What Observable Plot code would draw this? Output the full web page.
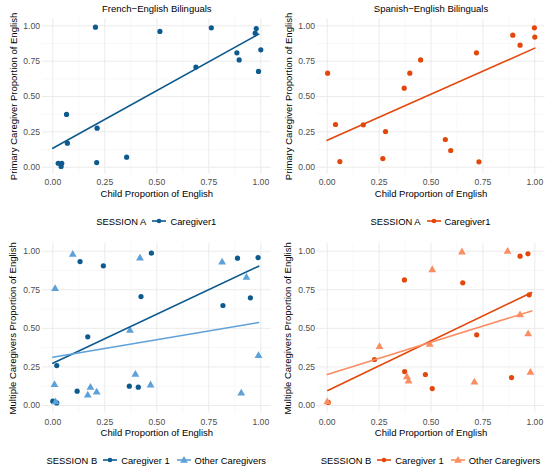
<!DOCTYPE html>
<html>
<head>
<meta charset="utf-8">
<script src="https://cdn.jsdelivr.net/npm/d3@7"></script>
<script src="https://cdn.jsdelivr.net/npm/@observablehq/plot@0.6"></script>
<style>
  html, body { margin: 0; padding: 0; background: #fff; overflow: hidden; }
  #wrap { position: relative; width: 550px; height: 469px; overflow: hidden;
          font-family: "Liberation Sans", Arial, Helvetica, sans-serif; }
  .cell { position: absolute; }
  .legend { position: absolute; height: 20px; display: flex; align-items: center;
            justify-content: center; font-size: 9.4px; color: #000; white-space: nowrap; }
  .legend .ttl { margin-right: 6px; }
  .legend svg { margin-right: 4px; }
  .legend .lab { margin-right: 7px; }
  .legend .lab:last-child { margin-right: 0; }
</style>
</head>
<body>
<div id="wrap"></div>
<script>
// ---------- data ----------
const frenchChild    = [0.205, 0.515, 0.762, 0.978, 0.973, 0.885, 0.896, 1.000, 0.989, 0.688, 0.066, 0.070, 0.213, 0.211, 0.355, 0.026, 0.043, 0.040];
const frenchPrimary  = [0.990, 0.960, 0.986, 0.981, 0.948, 0.809, 0.759, 0.830, 0.677, 0.708, 0.373, 0.170, 0.276, 0.033, 0.071, 0.028, 0.028, 0.005];
const frenchFitX     = [0.00, 0.99];
const frenchFitY     = [0.134, 0.941];

const spanishChild   = [0.002, 0.040, 0.061, 0.174, 0.268, 0.281, 0.371, 0.398, 0.450, 0.569, 0.595, 0.719, 0.731, 0.894, 0.929, 0.998, 1.000];
const spanishPrimary = [0.665, 0.302, 0.040, 0.300, 0.061, 0.252, 0.559, 0.665, 0.759, 0.196, 0.118, 0.809, 0.038, 0.934, 0.863, 0.986, 0.920];
const spanishFitX    = [0.00, 1.00];
const spanishFitY    = [0.190, 0.842];

const frBChild1      = [0.000, 0.019, 0.019, 0.131, 0.117, 0.168, 0.243, 0.368, 0.411, 0.424, 0.474, 0.818, 0.888, 0.950, 0.987];
const frBCare1       = [0.028, 0.017, 0.259, 0.933, 0.093, 0.445, 0.905, 0.125, 0.119, 0.706, 0.987, 0.648, 0.955, 0.698, 0.959];
const frBChildOther  = [0.096, 0.011, 0.419, 0.371, 0.008, 0.013, 0.397, 0.181, 0.168, 0.211, 0.470, 0.814, 0.931, 0.989, 0.906];
const frBCareOther   = [0.978, 0.756, 0.955, 0.486, 0.134, 0.022, 0.201, 0.117, 0.067, 0.086, 0.132, 0.929, 0.829, 0.322, 0.080];
const frBFit1X       = [0.00, 0.99];
const frBFit1Y       = [0.274, 0.903];
const frBFitOtherX   = [0.00, 0.99];
const frBFitOtherY   = [0.313, 0.538];

const esBChild1      = [0.005, 0.372, 0.653, 0.929, 0.967, 0.973, 0.720, 0.228, 0.373, 0.473, 0.506, 0.888];
const esBCare1       = [0.020, 0.814, 0.795, 0.968, 0.983, 0.717, 0.458, 0.298, 0.220, 0.201, 0.110, 0.181];
const esBChildOther  = [0.000, 0.252, 0.384, 0.392, 0.494, 0.506, 0.649, 0.709, 0.869, 0.929, 0.968, 0.979];
const esBCareOther   = [0.022, 0.380, 0.184, 0.158, 0.395, 0.879, 0.994, 0.151, 0.998, 0.587, 0.464, 0.214];
const esBFit1X       = [0.003, 0.985];
const esBFit1Y       = [0.097, 0.732];
const esBFitOtherX   = [0.000, 0.985];
const esBFitOtherY   = [0.201, 0.613];

const majorTicks = [0, 0.25, 0.5, 0.75, 1];
const minorTicks = [0.125, 0.375, 0.625, 0.875];
const tickLabels = ["0.00", "0.25", "0.50", "0.75", "1.00"];

const titles = ["French\u2212English Bilinguals", "Spanish\u2212English Bilinguals"];
const xTitle = "Child Proportion of English";
const yTitleTop = "Primary Caregiver Proportion of English";
const yTitleBottom = "Multiple Caregivers Proportion of English";
const legendTitles = ["SESSION A", "SESSION B"];
const seriesTop = ["Caregiver1"];
const seriesBottom = ["Caregiver 1", "Other Caregivers"];

const blueDark = "#0D5A8E", blueLight = "#5DA1D8";
const orangeDark = "#E3470B", orangeLight = "#FA8D62";

// ---------- helpers ----------
const W = 275;
const dom = [-0.05, 1.05];
const FONT = '"Liberation Sans", Arial, Helvetica, sans-serif';
const TICK_FS = 8.6, TITLE_FS = 9.5;
const fmt = d => tickLabels[majorTicks.indexOf(d)];
const rows = (xs, ys) => xs.map((x, i) => ({x, y: ys[i]}));

function makePanel(cfg) {
  const {H, x0, x1, y0, y1, points, fits, title, ylab, yTitleX, xTickY, xTitleY, titleY} = cfg;
  const kx = x1 - x0, ky = y0 - y1;
  const mL = x0 + dom[0] * kx;
  const mR = W - (x0 + dom[1] * kx);
  const mT = y0 - dom[1] * ky;
  const mB = H - (y0 - dom[0] * ky);
  const fb = H - mB;
  const marks = [
    Plot.gridX({ticks: minorTicks, stroke: "#F3F3F3", strokeOpacity: 1, strokeWidth: 0.6}),
    Plot.gridY({ticks: minorTicks, stroke: "#F3F3F3", strokeOpacity: 1, strokeWidth: 0.6}),
    Plot.gridX({ticks: majorTicks, stroke: "#EBEBEB", strokeOpacity: 1, strokeWidth: 1}),
    Plot.gridY({ticks: majorTicks, stroke: "#EBEBEB", strokeOpacity: 1, strokeWidth: 1}),
    Plot.axisX({ticks: majorTicks, tickFormat: fmt, tickSize: 0,
      tickPadding: xTickY - fb - 0.355 * TICK_FS, fontSize: TICK_FS, fill: "#4D4D4D", label: null}),
    Plot.axisY({ticks: majorTicks, tickFormat: fmt, tickSize: 0,
      tickPadding: mL - 39.5, fontSize: TICK_FS, fill: "#4D4D4D", label: null}),
  ];
  for (const p of points) {
    marks.push(Plot.dot(rows(p.xs, p.ys), {x: "x", y: "y", fill: p.color, stroke: "none",
      r: p.symbol === "triangle" ? 2.9 : 2.6, symbol: p.symbol}));
  }
  for (const f of fits) {
    marks.push(Plot.line(rows(f.xs, f.ys), {x: "x", y: "y", stroke: f.color, strokeWidth: 1.6}));
  }
  if (title) {
    marks.push(Plot.text([title], {text: d => d, frameAnchor: "top", lineAnchor: "middle",
      textAnchor: "middle", dy: titleY - mT, fontSize: TITLE_FS, fill: "#000"}));
  }
  marks.push(Plot.text([xTitle], {text: d => d, frameAnchor: "bottom", lineAnchor: "middle",
    textAnchor: "middle", dy: xTitleY - fb, fontSize: TITLE_FS, fill: "#000"}));
  marks.push(Plot.text([ylab], {text: d => d, frameAnchor: "left", lineAnchor: "middle",
    textAnchor: "middle", rotate: -90, dx: yTitleX - mL, fontSize: TITLE_FS, fill: "#000"}));
  return Plot.plot({
    width: W, height: H,
    marginLeft: mL, marginRight: mR, marginTop: mT, marginBottom: mB,
    x: {domain: dom, axis: null}, y: {domain: dom, axis: null},
    style: {fontFamily: FONT, background: "transparent", overflow: "visible"},
    marks
  });
}

function keySvg(color, symbol) {
  const s = d3.create("svg").attr("width", 14).attr("height", 10);
  s.append("line").attr("x1", 0).attr("x2", 14).attr("y1", 5).attr("y2", 5)
    .attr("stroke", color).attr("stroke-width", 1.6);
  if (symbol === "triangle") {
    s.append("path").attr("d", d3.symbol(d3.symbolTriangle, 26)()).attr("transform", "translate(7,5.4)").attr("fill", color);
  } else {
    s.append("circle").attr("cx", 7).attr("cy", 5).attr("r", 2.3).attr("fill", color);
  }
  return s.node();
}

function makeLegend(title, items, left, top, centerX) {
  const div = document.createElement("div");
  div.className = "legend";
  div.style.left = left + "px";
  div.style.top = top + "px";
  div.style.width = W + "px";
  const shift = 2 * (centerX - W / 2);
  div.style.boxSizing = "border-box";
  if (shift >= 0) div.style.paddingLeft = shift + "px"; else div.style.paddingRight = (-shift) + "px";
  const t = document.createElement("span"); t.className = "ttl"; t.textContent = title; div.appendChild(t);
  for (const it of items) {
    div.appendChild(keySvg(it.color, it.symbol));
    const l = document.createElement("span"); l.className = "lab"; l.textContent = it.label; div.appendChild(l);
  }
  return div;
}

const wrap = document.getElementById("wrap");
function place(node, left, top) {
  const d = document.createElement("div");
  d.className = "cell"; d.style.left = left + "px"; d.style.top = top + "px";
  d.appendChild(node); wrap.appendChild(d);
}

// geometry of the four panels (pixel positions of value 0 and 1)
const topGeo = {H: 205, y0: 166.7, y1: 25.3, titleY: 8.3, xTickY: 181.7, xTitleY: 193, yTitleX: 13};
const botGeo = {H: 210, y0: 170, y1: 15.7, xTickY: 186.7, xTitleY: 197.7, yTitleX: 12};
const leftX = {x0: 52.3, x1: 260.3};
const rightX = {x0: 51.7, x1: 259.3};

place(makePanel({...topGeo, ...leftX, title: titles[0], ylab: yTitleTop,
  points: [{xs: frenchChild, ys: frenchPrimary, color: blueDark, symbol: "circle"}],
  fits: [{xs: frenchFitX, ys: frenchFitY, color: blueDark}]}), 0, 0);

place(makePanel({...topGeo, ...rightX, title: titles[1], ylab: yTitleTop,
  points: [{xs: spanishChild, ys: spanishPrimary, color: orangeDark, symbol: "circle"}],
  fits: [{xs: spanishFitX, ys: spanishFitY, color: orangeDark}]}), 275, 0);

place(makePanel({...botGeo, ...leftX, ylab: yTitleBottom,
  points: [{xs: frBChild1, ys: frBCare1, color: blueDark, symbol: "circle"},
           {xs: frBChildOther, ys: frBCareOther, color: blueLight, symbol: "triangle"}],
  fits: [{xs: frBFit1X, ys: frBFit1Y, color: blueDark},
         {xs: frBFitOtherX, ys: frBFitOtherY, color: blueLight}]}), 0, 235);

place(makePanel({...botGeo, ...rightX, ylab: yTitleBottom,
  points: [{xs: esBChild1, ys: esBCare1, color: orangeDark, symbol: "circle"},
           {xs: esBChildOther, ys: esBCareOther, color: orangeLight, symbol: "triangle"}],
  fits: [{xs: esBFit1X, ys: esBFit1Y, color: orangeDark},
         {xs: esBFitOtherX, ys: esBFitOtherY, color: orangeLight}]}), 275, 235);

const lcL = (leftX.x0 + leftX.x1) / 2, lcR = (rightX.x0 + rightX.x1) / 2;
wrap.appendChild(makeLegend(legendTitles[0], [{label: seriesTop[0], color: blueDark, symbol: "circle"}], 0, 211, lcL));
wrap.appendChild(makeLegend(legendTitles[0], [{label: seriesTop[0], color: orangeDark, symbol: "circle"}], 275, 211, lcR));
wrap.appendChild(makeLegend(legendTitles[1], [{label: seriesBottom[0], color: blueDark, symbol: "circle"},
  {label: seriesBottom[1], color: blueLight, symbol: "triangle"}], 0, 450, lcL));
wrap.appendChild(makeLegend(legendTitles[1], [{label: seriesBottom[0], color: orangeDark, symbol: "circle"},
  {label: seriesBottom[1], color: orangeLight, symbol: "triangle"}], 275, 450, lcR));
</script>
</body>
</html>
